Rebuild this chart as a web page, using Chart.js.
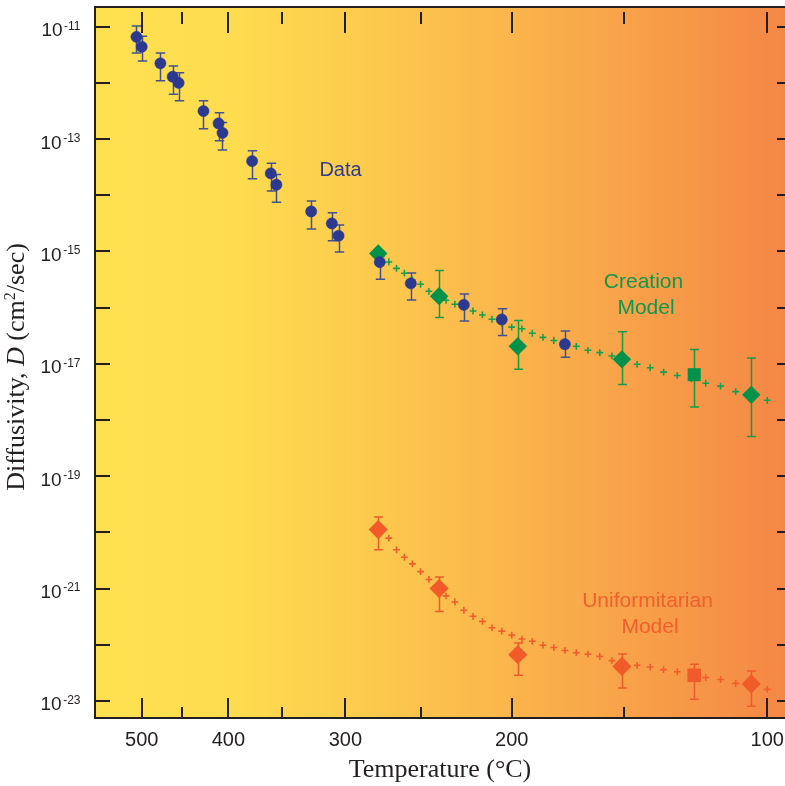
<!DOCTYPE html>
<html><head><meta charset="utf-8">
<script src="https://cdn.jsdelivr.net/npm/chart.js@4/dist/chart.umd.min.js"></script>
<style>html,body{margin:0;padding:0;background:#fff}#wrap{width:785px;height:786px;position:relative}</style>
</head><body><div id="wrap"><canvas id="c" width="785" height="786"></canvas></div>
<script>
// ---------- DATA ----------
const dataTempC  = [507, 500, 476, 461, 454, 426, 410, 406, 377, 360, 355, 326, 310, 305, 276, 256, 225, 205, 175];
const dataD      = [6.6e-12, 4.4e-12, 2.23e-12, 1.29e-12, 1.0e-12, 3.15e-13, 1.9e-13, 1.29e-13, 4.05e-14, 2.45e-14, 1.54e-14, 5.15e-15, 3.15e-15, 1.9e-15, 6.45e-16, 2.7e-16, 1.12e-16, 6.15e-17, 2.23e-17];
const dataDHigh  = [1.03e-11, 6.8e-12, 3.4e-12, 2.0e-12, 1.52e-12, 4.8e-13, 2.94e-13, 1.98e-13, 6.2e-14, 3.7e-14, 2.35e-14, 7.9e-15, 4.9e-15, 2.94e-15, 9.3e-16, 4.15e-16, 1.74e-16, 9.5e-17, 3.85e-17];
const dataDLow   = [3.4e-12, 2.45e-12, 1.09e-12, 6.3e-13, 4.8e-13, 1.52e-13, 9.3e-14, 6.4e-14, 1.96e-14, 1.19e-14, 7.5e-15, 2.5e-15, 1.55e-15, 9.8e-16, 3.2e-16, 1.36e-16, 5.8e-17, 3.2e-17, 1.31e-17];

const modelMarkerTempC = [277, 239, 197, 151, 124, 105];
const creationD     = [9.2e-16, 1.6e-16, 2.05e-17, 1.2e-17, 6.4e-18, 2.8e-18];
const creationDHigh = [null, 4.6e-16, 5.9e-17, 3.7e-17, 1.8e-17, 1.27e-17];
const creationDLow  = [null, 6.7e-17, 8.0e-18, 4.3e-18, 1.7e-18, 5.1e-19];
const uniformD      = [1.12e-20, 1.0e-21, 6.65e-23, 4.1e-23, 2.85e-23, 2.0e-23];
const uniformDHigh  = [1.87e-20, 1.6e-21, 1.07e-22, 6.8e-23, 4.5e-23, 3.4e-23];
const uniformDLow   = [4.9e-21, 3.9e-22, 2.85e-23, 1.7e-23, 1.07e-23, 8.0e-24];

const curveTempC = [275, 270, 265, 260, 255, 250, 245, 240, 235, 230, 225, 220, 215, 210, 205, 200, 195, 190, 185, 180, 175, 170, 165, 160, 155, 150, 145, 140, 135, 130, 125, 120, 115, 110, 105, 100];
const creationCurveD = [8.2e-16, 6.5e-16, 5.0e-16, 4.1e-16, 3.1e-16, 2.6e-16, 1.95e-16, 1.66e-16, 1.35e-16, 1.15e-16, 1.0e-16, 8.7e-17, 7.4e-17, 6.2e-17, 5.2e-17, 4.5e-17, 4.2e-17, 3.5e-17, 2.95e-17, 2.6e-17, 2.35e-17, 2.05e-17, 1.74e-17, 1.58e-17, 1.38e-17, 1.15e-17, 9.8e-18, 8.5e-18, 7.1e-18, 6.2e-18, 5.4e-18, 4.5e-18, 4.0e-18, 3.2e-18, 2.7e-18, 2.24e-18];
const uniformCurveD  = [1.05e-20, 7.9e-21, 4.9e-21, 3.6e-21, 2.75e-21, 2.0e-21, 1.45e-21, 1.02e-21, 7.4e-22, 5.75e-22, 4.1e-22, 3.2e-22, 2.6e-22, 2.0e-22, 1.74e-22, 1.48e-22, 1.26e-22, 1.15e-22, 9.8e-23, 8.9e-23, 7.9e-23, 7.2e-23, 6.8e-23, 6.2e-23, 5.2e-23, 4.8e-23, 4.3e-23, 4.0e-23, 3.6e-23, 3.3e-23, 2.95e-23, 2.6e-23, 2.4e-23, 2.05e-23, 1.8e-23, 1.6e-23];

const xMajorTicksC = [500, 400, 300, 200, 100];
const xMinorTicksC = [450, 350, 250, 150];
const yLabelExponents = [-11, -13, -15, -17, -19, -21, -23];
const yTickExponents = [-11, -12, -13, -14, -15, -16, -17, -18, -19, -20, -21, -22, -23];

// x axis is reciprocal absolute temperature (1000/K)
const inv = t => 1000 / (t + 273.15);
const pts = (temps, vals) => temps.map((t, i) => ({x: inv(t), y: vals[i]}));

const BLUE = '#2B3990', GREEN = '#00924A', ORANGE = '#F15A29', INK = '#231F20';

const errorGroups = [
  {temps: dataTempC, lo: dataDLow, hi: dataDHigh, color: '#44518C', cap: 4.7},
  {temps: modelMarkerTempC, lo: creationDLow, hi: creationDHigh, color: '#16994C', cap: 4.4},
  {temps: modelMarkerTempC, lo: uniformDLow, hi: uniformDHigh, color: '#F05A2A', cap: 4.4}
];

const framePlugin = {
  id: 'frame',
  beforeDraw(chart) {
    const {ctx, chartArea: a} = chart;
    const g = ctx.createLinearGradient(a.left, 0, a.right, 0);
    g.addColorStop(0, '#FFE150');
    g.addColorStop(0.2, '#FEDC4F');
    g.addColorStop(0.45, '#FCC54D');
    g.addColorStop(0.72, '#F9A84A');
    g.addColorStop(1, '#F48745');
    ctx.save();
    ctx.fillStyle = g;
    ctx.fillRect(a.left, a.top, a.right - a.left, a.bottom - a.top);
    ctx.restore();
  },
  beforeDatasetsDraw(chart) {
    const {ctx} = chart;
    const xs = chart.scales.x, ys = chart.scales.y;
    ctx.save();
    ctx.lineWidth = 1.5;
    errorGroups.forEach(gr => {
      ctx.strokeStyle = gr.color;
      gr.temps.forEach((t, i) => {
        if (gr.lo[i] == null) return;
        const x = Math.round(xs.getPixelForValue(inv(t))) + 0.5;
        const y1 = ys.getPixelForValue(gr.hi[i]);
        const y2 = ys.getPixelForValue(gr.lo[i]);
        ctx.beginPath();
        ctx.moveTo(x, y1); ctx.lineTo(x, y2);
        ctx.moveTo(x - gr.cap, y1); ctx.lineTo(x + gr.cap, y1);
        ctx.moveTo(x - gr.cap, y2); ctx.lineTo(x + gr.cap, y2);
        ctx.stroke();
      });
    });
    ctx.restore();
  },
  afterDraw(chart) {
    const {ctx, chartArea: a} = chart;
    const xs = chart.scales.x, ys = chart.scales.y;
    ctx.save();
    ctx.strokeStyle = INK;
    ctx.lineWidth = 2;
    // frame: left, bottom, top
    ctx.beginPath();
    ctx.moveTo(a.left, a.top); ctx.lineTo(a.right + 2, a.top);
    ctx.moveTo(a.left, a.top - 1); ctx.lineTo(a.left, a.bottom + 1);
    ctx.moveTo(a.left - 1, a.bottom); ctx.lineTo(a.right + 2, a.bottom);
    ctx.stroke();
    // inward ticks on x (bottom & top)
    ctx.beginPath();
    xMajorTicksC.forEach(t => {
      const x = Math.round(xs.getPixelForValue(inv(t)));
      ctx.moveTo(x, a.bottom); ctx.lineTo(x, a.bottom - 20);
      ctx.moveTo(x, a.top + 5); ctx.lineTo(x, a.top + 26);
    });
    xMinorTicksC.forEach(t => {
      const x = Math.round(xs.getPixelForValue(inv(t)));
      ctx.moveTo(x, a.bottom); ctx.lineTo(x, a.bottom - 11);
      ctx.moveTo(x, a.top + 5); ctx.lineTo(x, a.top + 17);
    });
    // inward ticks on y (left & right)
    yTickExponents.forEach(e => {
      const y = Math.round(ys.getPixelForValue(Math.pow(10, e)));
      ctx.moveTo(a.left, y); ctx.lineTo(a.left + 15, y);
      ctx.moveTo(a.right - 8, y); ctx.lineTo(a.right + 2, y);
    });
    ctx.stroke();
    // y tick labels with superscripts
    ctx.fillStyle = INK;
    ctx.textBaseline = 'alphabetic';
    yLabelExponents.forEach(e => {
      const y = ys.getPixelForValue(Math.pow(10, e));
      ctx.textAlign = 'right';
      ctx.font = '12px "Liberation Sans", Arial, sans-serif';
      ctx.fillText(String(e), 80.5, y + 2.8);
      const ew = ctx.measureText(String(e)).width;
      ctx.font = '19px "Liberation Sans", Arial, sans-serif';
      ctx.fillText('10', 80.5 - ew - 1.5, y + 9.5);
    });
    // y axis title (rotated, with italic D and superscript 2)
    const segs = [
      {t: 'Diffusivity, ', f: '26px "Liberation Serif", "Times New Roman", serif', dy: 0},
      {t: 'D', f: 'italic 26px "Liberation Serif", "Times New Roman", serif', dy: 0},
      {t: ' (cm', f: '26px "Liberation Serif", "Times New Roman", serif', dy: 0},
      {t: '2', f: '16px "Liberation Serif", "Times New Roman", serif', dy: -9},
      {t: '/sec)', f: '26px "Liberation Serif", "Times New Roman", serif', dy: 0}
    ];
    let total = 0;
    segs.forEach(s => { ctx.font = s.f; s.w = ctx.measureText(s.t).width; total += s.w; });
    ctx.save();
    ctx.translate(24, 367);
    ctx.rotate(-Math.PI / 2);
    ctx.textAlign = 'left';
    let cx = -total / 2;
    segs.forEach(s => { ctx.font = s.f; ctx.fillText(s.t, cx, s.dy); cx += s.w; });
    ctx.restore();
    // annotations
    ctx.textAlign = 'center';
    ctx.textBaseline = 'middle';
    const notes = [
      {t: 'Data', x: 340.5, y: 170, c: '#2E3B8E', s: 20},
      {t: 'Creation', x: 643.5, y: 282.5, c: '#11974B', s: 21},
      {t: 'Model', x: 646, y: 308, c: '#11974B', s: 21},
      {t: 'Uniformitarian', x: 647.5, y: 601, c: '#F0602C', s: 21},
      {t: 'Model', x: 650, y: 627, c: '#F0602C', s: 21}
    ];
    notes.forEach(n => {
      ctx.font = n.s + 'px "Liberation Sans", Arial, sans-serif';
      ctx.fillStyle = n.c;
      ctx.fillText(n.t, n.x, n.y);
    });
    ctx.restore();
  }
};

new Chart(document.getElementById('c'), {
  type: 'scatter',
  data: {
    datasets: [
      {label: 'Data', data: pts(dataTempC, dataD), pointStyle: 'circle', pointRadius: 5.6,
       backgroundColor: BLUE, borderColor: BLUE, borderWidth: 0.5},
      {label: 'Creation Model', data: pts(modelMarkerTempC, creationD),
       pointStyle: ['rectRot', 'rectRot', 'rectRot', 'rectRot', 'rect', 'rectRot'], pointRadius: 9.2,
       backgroundColor: GREEN, borderColor: GREEN, borderWidth: 0},
      {label: 'Uniformitarian Model', data: pts(modelMarkerTempC, uniformD),
       pointStyle: ['rectRot', 'rectRot', 'rectRot', 'rectRot', 'rect', 'rectRot'], pointRadius: 9.6,
       backgroundColor: ORANGE, borderColor: ORANGE, borderWidth: 0},
      {label: 'Creation curve', data: pts(curveTempC, creationCurveD), pointStyle: 'cross', pointRadius: 3.4,
       borderColor: '#14A04E', backgroundColor: '#14A04E', borderWidth: 1.6},
      {label: 'Uniformitarian curve', data: pts(curveTempC, uniformCurveD), pointStyle: 'cross', pointRadius: 3.4,
       borderColor: '#F25C2B', backgroundColor: '#F25C2B', borderWidth: 1.6}
    ]
  },
  options: {
    responsive: false,
    animation: false,
    devicePixelRatio: 1,
    layout: {autoPadding: false, padding: {top: 7, right: 0, left: 0, bottom: 0}},
    plugins: {legend: {display: false}, tooltip: {enabled: false}},
    scales: {
      x: {
        type: 'linear',
        min: 1.1899, max: 2.7192,
        afterBuildTicks: s => { s.ticks = xMajorTicksC.map(t => ({value: inv(t)})); },
        afterFit: s => { s.height = 68; s.paddingLeft = 0; s.paddingRight = 0; },
        grid: {display: false, drawTicks: false},
        border: {display: false},
        ticks: {
          autoSkip: false, maxRotation: 0, padding: 10, color: INK,
          font: {family: '"Liberation Sans", Arial, sans-serif', size: 20},
          callback: v => String(Math.round(1000 / v - 273.15))
        },
        title: {display: true, text: 'Temperature (°C)', color: INK,
          font: {family: '"Liberation Serif", "Times New Roman", serif', size: 26},
          padding: {top: 0, bottom: 0}}
      },
      y: {
        type: 'logarithmic',
        min: Math.pow(10, -23.305), max: Math.pow(10, -10.649),
        afterFit: s => { s.width = 95; },
        grid: {display: false, drawTicks: false},
        border: {display: false},
        ticks: {display: false}
      }
    }
  },
  plugins: [framePlugin]
});
</script>
</body></html>
